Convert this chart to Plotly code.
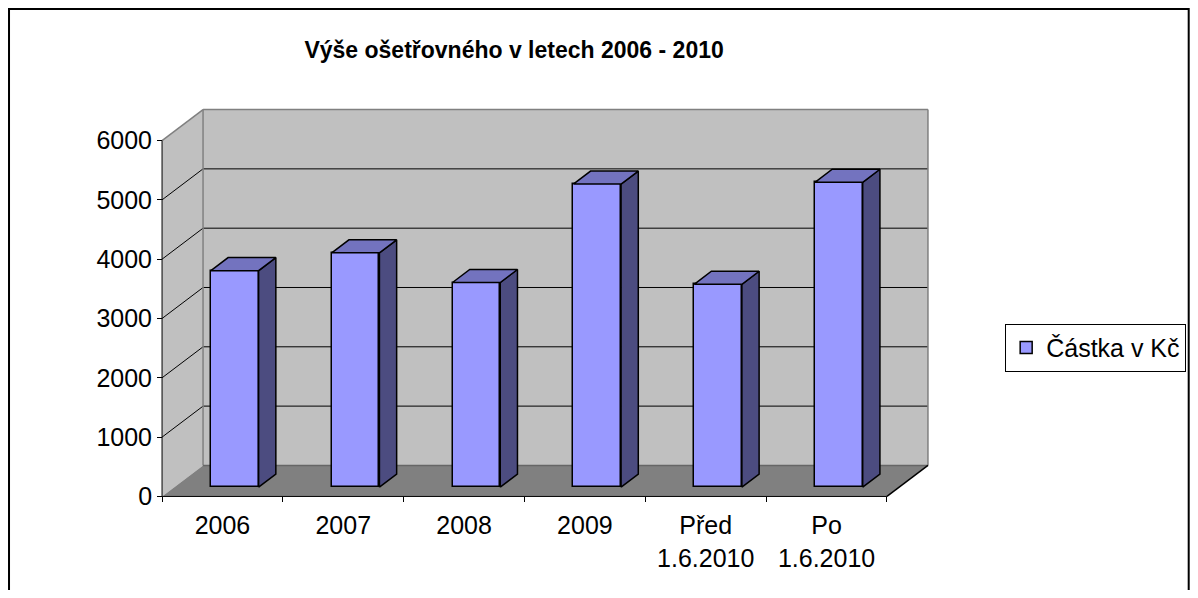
import plotly.graph_objects as go

# ---------------- data ----------------
categories = ["2006", "2007", "2008", "2009", "Před<br>1.6.2010", "Po<br>1.6.2010"]
values = [3650, 3950, 3450, 5110, 3420, 5140]
y_ticks = [0, 1000, 2000, 3000, 4000, 5000, 6000]
series_name = "Částka v Kč"
title_text = "Výše ošetřovného v letech 2006 - 2010"

# ---------------- 3D (oblique) geometry ----------------
N = len(categories)
YMAX = 6000
DX = 0.3394      # depth offset along x (category units)
DY = 523         # depth offset along y (value units)
D_FRONT = 0.30   # depth fraction of bar front face
D_DEPTH = 0.42   # bar depth fraction
BAR_W = 0.395

FONT = "Liberation Sans, Arial, sans-serif"
FRONT_C = "#9999FF"
TOP_C = "#7373BF"
SIDE_C = "#4C4C80"
WALL_C = "#C0C0C0"
FLOOR_C = "#808080"
EDGE_C = "#808080"

# pixel layout (page body has an 8px margin -> work in figure pixels)
OFF = 8
FW, FH = 1198 - 2 * OFF, 598 - 2 * OFF
PX = 120.8       # px per category unit
PV = 0.05928     # px per value unit
OX, OY = 162 - OFF, 496.7 - OFF
xmin, xmax = -0.05, N + DX + 0.05
vmin, vmax = -60, YMAX + DY + 60
W = (xmax - xmin) * PX
H = (vmax - vmin) * PV
ml = OX + xmin * PX
mr = FW - ml - W
mb = FH - (OY - vmin * PV)
mt = FH - mb - H


def paper_x(px):
    return (px - OFF - ml) / W


def paper_y(py):
    return ((FH - mb) - (py - OFF)) / H


fig = go.Figure()

# front faces (native bars)
fig.add_trace(go.Bar(
    x=[i + 0.5 + D_FRONT * DX for i in range(N)],
    y=values,
    base=[D_FRONT * DY] * N,
    width=BAR_W,
    marker=dict(color=FRONT_C, line=dict(color="black", width=1.5)),
    name=series_name,
    showlegend=True,
    hoverinfo="skip",
))

# side and top faces
ddx, ddy = D_DEPTH * DX, D_DEPTH * DY
for i, v in enumerate(values):
    xl = i + 0.5 - BAR_W / 2 + D_FRONT * DX
    xr = xl + BAR_W
    b0 = D_FRONT * DY
    top = b0 + v
    fig.add_trace(go.Scatter(
        x=[xr, xr + ddx, xr + ddx, xr, xr],
        y=[b0, b0 + ddy, top + ddy, top, b0],
        fill="toself", fillcolor=SIDE_C, mode="lines",
        line=dict(color="black", width=1.5),
        showlegend=False, hoverinfo="skip"))
    fig.add_trace(go.Scatter(
        x=[xl, xr, xr + ddx, xl + ddx, xl],
        y=[top, top, top + ddy, top + ddy, top],
        fill="toself", fillcolor=TOP_C, mode="lines",
        line=dict(color="black", width=1.5),
        showlegend=False, hoverinfo="skip"))

# axis lines
fig.add_trace(go.Scatter(x=[0, 0], y=[0, YMAX], mode="lines",
                         line=dict(color="black", width=1),
                         showlegend=False, hoverinfo="skip"))
fig.add_trace(go.Scatter(x=[0, N], y=[0, 0], mode="lines", xaxis="x2",
                         line=dict(color="black", width=1),
                         showlegend=False, hoverinfo="skip"))

shapes = []
# walls and floor
shapes.append(dict(type="path", xref="x", yref="y", layer="below",
                   path=f"M0,0 L0,{YMAX} L{DX},{YMAX + DY} L{DX},{DY} Z",
                   fillcolor=WALL_C, line=dict(width=0)))
shapes.append(dict(type="path", xref="x", yref="y", layer="below",
                   path=f"M{DX},{DY} L{N + DX},{DY} L{N + DX},{YMAX + DY} L{DX},{YMAX + DY} Z",
                   fillcolor=WALL_C, line=dict(width=0)))
shapes.append(dict(type="path", xref="x", yref="y", layer="below",
                   path=f"M0,0 L{N},0 L{N + DX},{DY} L{DX},{DY} Z",
                   fillcolor=FLOOR_C, line=dict(width=0)))
# gridlines
for v in y_ticks[1:-1]:
    shapes.append(dict(type="line", xref="x", yref="y", layer="below",
                       x0=DX, y0=v + DY, x1=N + DX, y1=v + DY,
                       line=dict(color="black", width=1)))
    shapes.append(dict(type="line", xref="x", yref="y", layer="below",
                       x0=0, y0=v, x1=DX, y1=v + DY,
                       line=dict(color="black", width=1)))
# wall edges
for (x0, y0, x1, y1, c) in [
    (0, YMAX, DX, YMAX + DY, EDGE_C),
    (DX, YMAX + DY, N + DX, YMAX + DY, EDGE_C),
    (DX, DY, DX, YMAX + DY, EDGE_C),
    (N + DX, DY, N + DX, YMAX + DY, EDGE_C),
    (DX, DY, N + DX, DY, "#666666"),
    (N, 0, N + DX, DY, "black"),
]:
    shapes.append(dict(type="line", xref="x", yref="y", layer="below",
                       x0=x0, y0=y0, x1=x1, y1=y1,
                       line=dict(color=c, width=1.5)))
# outer frame
shapes.append(dict(type="rect", xref="paper", yref="paper",
                   x0=paper_x(9), x1=paper_x(1188.5), y0=paper_y(700), y1=paper_y(9.5),
                   line=dict(color="black", width=2), fillcolor="rgba(0,0,0,0)"))

xpos = (0 - vmin) / (vmax - vmin)
ypos = (0 - xmin) / (xmax - xmin)

fig.update_layout(
    width=FW, height=FH, autosize=False,
    margin=dict(l=ml, r=mr, t=mt, b=mb, pad=0, autoexpand=False),
    paper_bgcolor="white", plot_bgcolor="white",
    font=dict(family=FONT, color="black", size=25),
    title=dict(text=f"<b>{title_text}</b>", x=paper_x(514), xref="paper",
               xanchor="center", y=1 - (50 - OFF) / FH, yref="container", yanchor="middle",
               font=dict(family=FONT, size=23, color="black")),
    xaxis=dict(range=[xmin, xmax], anchor="free", position=xpos,
               tickvals=[i + 0.5 for i in range(N)], ticktext=categories,
               ticks="outside", ticklen=7, tickcolor="rgba(0,0,0,0)",
               showline=False, showgrid=False, zeroline=False,
               tickfont=dict(size=25, color="black")),
    xaxis2=dict(range=[xmin, xmax], overlaying="x", anchor="free", position=xpos,
                side="bottom", tickvals=list(range(N + 1)), ticks="outside",
                ticklen=5, tickwidth=1, tickcolor="black", showticklabels=False,
                showline=False, showgrid=False, zeroline=False),
    yaxis=dict(range=[vmin, vmax], anchor="free", position=ypos,
               tickvals=y_ticks, ticks="outside", ticklen=5, tickwidth=1,
               tickcolor="black", showline=False, showgrid=False, zeroline=False,
               tickfont=dict(size=25, color="black")),
    legend=dict(x=paper_x(1005), y=paper_y(324), xanchor="left", yanchor="top",
                bordercolor="black", borderwidth=1, bgcolor="white",
                font=dict(size=25, color="black")),
    shapes=shapes,
    bargap=0,
)

fig.write_html("out.html")
